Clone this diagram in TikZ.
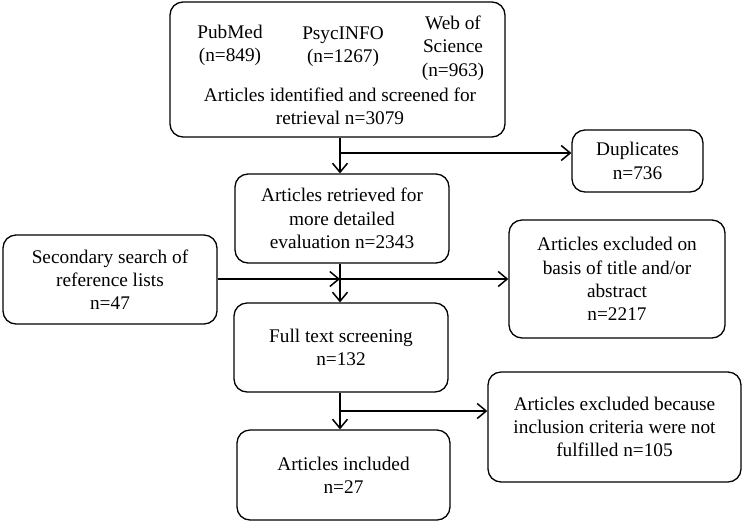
\documentclass[tikz,border=0pt]{standalone}
\usepackage{fontspec}
\setmainfont{Liberation Serif}
\usetikzlibrary{arrows.meta}
\begin{document}
\begin{tikzpicture}[x=1pt,y=-1pt,
 box/.style={draw,line width=1.3pt,rounded corners=13pt,inner sep=0pt,align=center,font=\fontsize{19.3}{23.3}\selectfont},
 txt/.style={align=center,inner sep=0pt,font=\fontsize{19.3}{23.3}\selectfont},
 arr/.style={line width=1.5pt,-{Straight Barb[length=9pt,width=15pt,line width=1.5pt]}}]
\useasboundingbox (0,0) rectangle (746,523);
\coordinate (spine) at (340,0);
\node[box,minimum width=335pt,minimum height=135pt] (b1) at (337.5,69.5) {};
\node[txt] (pm) at (230,45.5) {PubMed\\(n=849)};
\node[txt] (ps) at (343,46.5) {PsycINFO\\(n=1267)};
\node[txt] (ws) at (453,48) {Web of\\Science\\(n=963)};
\node[txt] (ai) at (340,106) {Articles identified and screened for\\retrieval n=3079};
\node[box,minimum width=131pt,minimum height=62pt] (dup) at (637.5,161) {Duplicates\\n=736};
\node[box,minimum width=214pt,minimum height=89pt] (b2) at (342,218.5) {Articles retrieved for\\more detailed\\evaluation n=2343};
\node[box,minimum width=214pt,minimum height=89pt] (sec) at (110,279.5) {Secondary search of\\reference lists\\n=47};
\node[box,minimum width=216pt,minimum height=118pt] (ex1) at (617,279) {Articles excluded on\\basis of title and/or\\abstract\\n=2217};
\node[box,minimum width=214pt,minimum height=89pt] (ft) at (341,347.5) {Full text screening\\n=132};
\node[box,minimum width=253pt,minimum height=110pt] (ex2) at (614.5,427) {Articles excluded because\\inclusion criteria were not\\fulfilled n=105};
\node[box,minimum width=213pt,minimum height=90pt] (inc) at (343.5,475) {Articles included\\n=27};
\coordinate (j1) at (340,153);
\coordinate (j2) at (340,279);
\coordinate (j3) at (340,411);
\draw[arr] (b1.south -| spine) -- (b2.north -| spine);
\draw[arr] (j1) -- (j1 -| dup.west);
\draw[arr] (sec.east |- j2) -- (j2);
\draw[arr] (j2) -- (j2 -| ex1.west);
\draw[arr] (b2.south -| spine) -- (ft.north -| spine);
\draw[arr] (ft.south -| spine) -- (inc.north -| spine);
\draw[arr] (j3) -- (j3 -| ex2.west);
\end{tikzpicture}
\end{document}
